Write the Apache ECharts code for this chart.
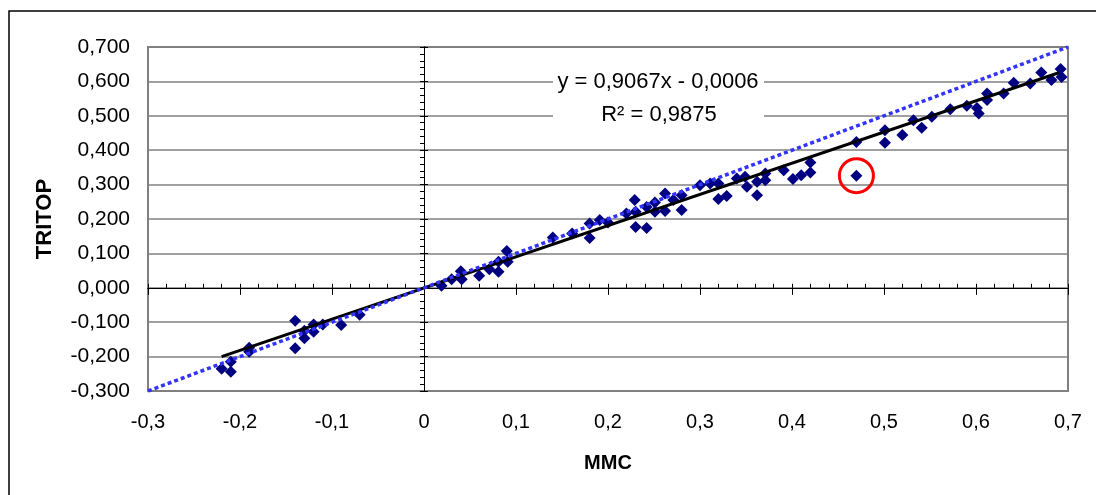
<!DOCTYPE html>
<html><head><meta charset="utf-8">
<script src="https://cdn.jsdelivr.net/npm/echarts@6/dist/echarts.min.js"></script>
<style>html,body{margin:0;padding:0;background:#fff}#c{width:1096px;height:495px}</style>
</head><body><div id="c"></div>
<script>
// MMC (x) values
const mmc = [
  -0.22,-0.21,-0.21,-0.19,-0.19,-0.14,-0.14,-0.13,-0.13,-0.12,-0.12,-0.11,-0.09,-0.07,
  0.019,0.030,0.040,0.041,0.060,0.071,0.081,0.081,0.090,0.091,0.140,0.161,0.180,0.180,0.191,0.200,
  0.220,0.229,0.230,0.230,0.242,0.242,0.251,0.251,0.262,0.262,0.271,0.280,0.280,
  0.300,0.311,0.320,0.320,0.329,0.340,0.349,0.351,0.362,0.362,0.371,0.371,0.391,0.401,0.410,
  0.420,0.420,0.470,0.470,0.501,0.501,0.520,0.532,0.541,0.552,0.572,0.590,0.601,0.603,
  0.612,0.612,0.630,0.641,0.659,0.671,0.682,0.692,0.693
];
// TRITOP (y) values
const tritop = [
  -0.235,-0.244,-0.215,-0.174,-0.186,-0.096,-0.176,-0.125,-0.147,-0.107,-0.128,-0.107,-0.108,-0.078,
  0.006,0.025,0.048,0.025,0.035,0.054,0.076,0.047,0.107,0.076,0.146,0.158,0.187,0.145,0.197,0.190,
  0.216,0.255,0.221,0.177,0.174,0.235,0.248,0.221,0.274,0.223,0.255,0.226,0.269,
  0.298,0.303,0.303,0.258,0.267,0.318,0.323,0.294,0.269,0.308,0.332,0.313,0.342,0.316,0.327,
  0.335,0.364,0.326,0.424,0.458,0.422,0.444,0.487,0.465,0.497,0.519,0.529,0.523,0.507,
  0.565,0.546,0.565,0.596,0.594,0.626,0.604,0.636,0.613
];
const xTickLabels = ['-0,3','-0,2','-0,1','0','0,1','0,2','0,3','0,4','0,5','0,6','0,7'];
const yTickLabels = ['-0,300','-0,200','-0,100','0,000','0,100','0,200','0,300','0,400','0,500','0,600','0,700'];
const trendSlope = 0.9067, trendIntercept = -0.0006;
const trendXRange = [-0.22, 0.69];
const identityRange = [-0.3, 0.7];
const outlier = [0.47, 0.326];
const equationText = 'y = 0,9067x - 0,0006';
const r2Text = 'R\u00B2 = 0,9875';

const AX_MIN = -0.3, AX_MAX = 0.7, AX_INT = 0.1;
const idx = v => Math.round((v - AX_MIN) / AX_INT);

const chart = echarts.init(document.getElementById('c'), null, {renderer:'canvas'});
const baseAxis = {type:'value', min:AX_MIN, max:AX_MAX, interval:AX_INT};
const zeroAxis = (inside, len, minor) => Object.assign({}, baseAxis, {
  axisLine:{show:true, onZero:true, lineStyle:{color:'#000', width:1}},
  axisTick:{show:true, inside:inside, length:len, lineStyle:{color:'#000', width:1}},
  minorTick:{show:minor, splitNumber:5, length:4, lineStyle:{color:'#000', width:1}},
  axisLabel:{show:false}, splitLine:{show:false}
});

chart.setOption({
  animation:false,
  grid:{left:148, right:28, top:47, bottom:104, show:true, borderColor:'#808080', borderWidth:2},
  xAxis:[
    Object.assign({}, baseAxis, {
      position:'bottom',
      axisLine:{show:false, onZero:false}, axisTick:{show:false}, splitLine:{show:false},
      axisLabel:{margin:21, fontSize:20, fontFamily:'"Liberation Sans",Arial', color:'#000',
        formatter:v => xTickLabels[idx(v)]},
      name:'MMC', nameLocation:'middle', nameGap:62,
      nameTextStyle:{fontWeight:'bold', fontSize:20, fontFamily:'"Liberation Sans",Arial', color:'#000'}
    }),
    Object.assign(zeroAxis(true, 4, true), {position:'bottom'}),
    Object.assign(zeroAxis(false, 7, false), {position:'bottom'})
  ],
  yAxis:[
    Object.assign({}, baseAxis, {
      position:'left',
      axisLine:{show:false, onZero:false}, axisTick:{show:false},
      splitLine:{show:true, lineStyle:{color:'#808080', width:1.5}},
      axisLabel:{margin:18, fontSize:21, fontFamily:'"Liberation Sans",Arial', color:'#000',
        formatter:v => yTickLabels[idx(v)]},
      name:'TRITOP', nameLocation:'middle', nameGap:92, nameRotate:90,
      nameTextStyle:{fontWeight:'bold', fontSize:22, fontFamily:'"Liberation Sans",Arial', color:'#000'}
    }),
    Object.assign(zeroAxis(false, 4, true), {position:'left'}),
    Object.assign(zeroAxis(true, 4, false), {position:'left'})
  ],
  series:[
    {type:'scatter', xAxisIndex:0, yAxisIndex:0, z:3,
     data:mmc.map((x,i)=>[x, tritop[i]]),
     symbol:'diamond', symbolSize:12, itemStyle:{color:'#000080', opacity:1}},
    {type:'line', xAxisIndex:0, yAxisIndex:0, z:4, showSymbol:false, symbol:'none',
     data:trendXRange.map(x=>[x, trendSlope*x + trendIntercept]),
     lineStyle:{color:'#000', width:3}},
    {type:'line', xAxisIndex:0, yAxisIndex:0, z:5, showSymbol:false, symbol:'none',
     data:identityRange.map(x=>[x, x]),
     lineStyle:{color:'#3333ff', width:3.5, type:[4,3]}},
    {type:'scatter', xAxisIndex:0, yAxisIndex:0, z:6, silent:true,
     data:[outlier], symbol:'circle', symbolSize:34,
     itemStyle:{color:'rgba(0,0,0,0)', borderColor:'#ff0000', borderWidth:3, opacity:1}}
  ],
  graphic:[
    {type:'rect', z:0, silent:true, shape:{x:9, y:11, width:1300, height:700},
     style:{fill:'transparent', stroke:'#000', lineWidth:1.5}},
    {type:'rect', z:10, silent:true, shape:{x:553, y:66, width:211, height:66}, style:{fill:'#fff'}},
    {type:'text', z:11, x:658, y:82, style:{text:equationText, font:'22px "Liberation Sans", Arial', fill:'#000', align:'center', verticalAlign:'middle'}},
    {type:'text', z:11, x:659, y:115, style:{text:r2Text, font:'22px "Liberation Sans", Arial', fill:'#000', align:'center', verticalAlign:'middle'}}
  ]
});
</script></body></html>
